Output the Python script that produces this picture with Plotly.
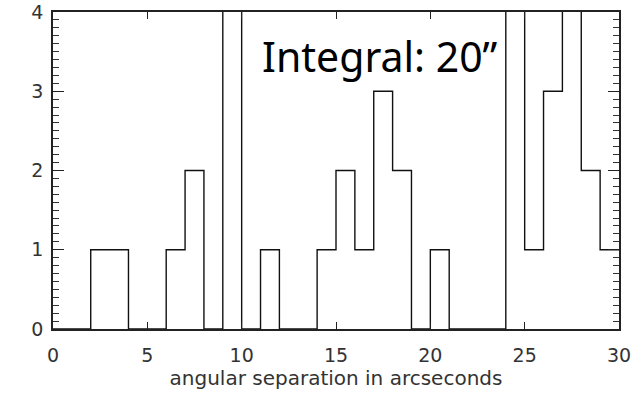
import plotly.graph_objects as go

# Histogram of angular separations, 1-arcsecond bins from 0 to 30
bin_edges = list(range(0, 31))
counts = [0, 0, 1, 1, 0, 0, 1, 2, 0, 5,
          0, 1, 0, 0, 1, 2, 1, 3, 2, 0,
          1, 0, 0, 0, 5, 1, 3, 5, 2, 1]

x_ticks = [0, 5, 10, 15, 20, 25, 30]
y_ticks = [0, 1, 2, 3, 4]

step_y = counts + [counts[-1]]

fig = go.Figure()
fig.add_trace(go.Scatter(
    x=bin_edges, y=step_y, mode="lines",
    line=dict(shape="hv", color="#111111", width=1.4),
    showlegend=False, hoverinfo="skip",
))

fig.add_annotation(
    text="Integral: 20\u201d", x=17.35, y=3.44, xref="x", yref="y",
    showarrow=False, xanchor="center", yanchor="middle",
    font=dict(family="Noto Sans, Open Sans, sans-serif", size=41, color="#000000"),
)

tick_font = dict(family="DejaVu Sans, sans-serif", size=19, color="#333333")

fig.update_xaxes(
    range=[0, 30], tickvals=x_ticks, ticks="inside", ticklen=7, tickwidth=1.3,
    tickcolor="#222222", showline=True, linecolor="#222222", linewidth=1.6,
    mirror="allticks", showgrid=False, zeroline=False, tickfont=tick_font,
    ticklabelstandoff=8, automargin=False,
    title=dict(text="angular separation in arcseconds", standoff=6,
               font=dict(family="DejaVu Sans, sans-serif", size=20, color="#333333")),
)
fig.update_yaxes(
    range=[0, 4], tickvals=y_ticks, ticks="inside", ticklen=11, tickwidth=1.3,
    tickcolor="#222222", showline=True, linecolor="#222222", linewidth=1.6,
    mirror="allticks", showgrid=False, zeroline=False, tickfont=tick_font,
    ticklabelstandoff=4, automargin=False,
    minor=dict(dtick=0.1, ticks="inside", ticklen=6, tickwidth=1, tickcolor="#333333",
               showgrid=False),
)

fig.update_layout(
    width=634, height=393,
    margin=dict(l=53, r=15, t=12, b=64),
    plot_bgcolor="white", paper_bgcolor="white",
)

fig.write_html("out.html")
